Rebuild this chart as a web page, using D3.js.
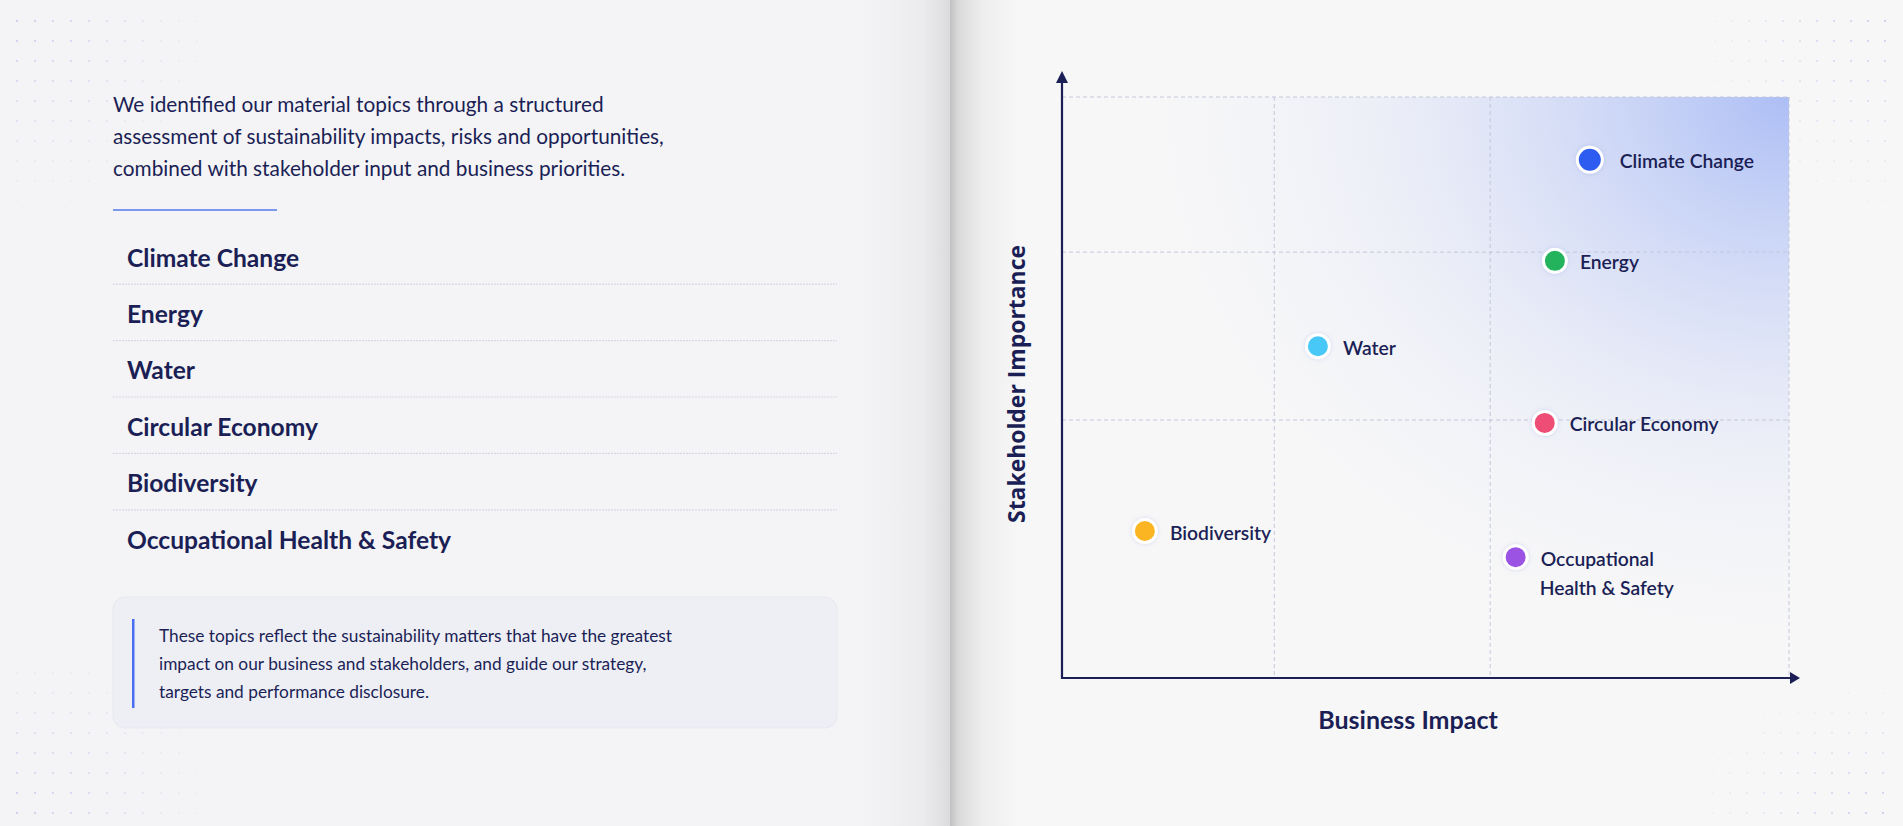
<!DOCTYPE html>
<html>
<head>
<meta charset="utf-8">
<script src="https://cdn.jsdelivr.net/npm/d3@7"></script>
<style>
  html, body { margin: 0; padding: 0; background: #f4f4f6; overflow: hidden; }
  svg { display: block; }
</style>
</head>
<body>
<svg id="chart" width="1903" height="826"></svg>
<script>
// ---------------- DATA ----------------
const introLines = [
  "We identified our material topics through a structured",
  "assessment of sustainability impacts, risks and opportunities,",
  "combined with stakeholder input and business priorities."
];
const topicList = ["Climate Change", "Energy", "Water", "Circular Economy", "Biodiversity", "Occupational Health & Safety"];
const noteLines = [
  "These topics reflect the sustainability matters that have the greatest",
  "impact on our business and stakeholders, and guide our strategy,",
  "targets and performance disclosure."
];
const topics = ["Climate Change", "Energy", "Water", "Circular Economy", "Biodiversity", "Occupational Health & Safety"];
const pointLabels = [["Climate Change"], ["Energy"], ["Water"], ["Circular Economy"], ["Biodiversity"], ["Occupational", "Health & Safety"]];
const businessImpact = [7.26, 6.78, 3.52, 6.64, 1.14, 6.24];
const stakeholderImportance = [8.92, 7.18, 5.71, 4.39, 2.53, 2.08];
const pointColors = ["#2f5cf0", "#22b35c", "#47c8f6", "#ee4d76", "#fbb424", "#9a52e3"];
const xGridValues = [2.92, 5.89, 10];
const yGridValues = [4.44, 7.33, 10];
const xTitle = "Business Impact";
const yTitle = "Stakeholder Importance";

// ---------------- SETUP ----------------
const W = 1903, H = 826;
const navy = "#1b1f55";
const svg = d3.select("#chart");
const defs = svg.append("defs");

// background
svg.append("rect").attr("width", W).attr("height", H).attr("fill", "#f4f4f6");
svg.append("rect").attr("x", 950).attr("width", W - 950).attr("height", H).attr("fill", "#f7f7f8");

// gutter shadows
const gL = defs.append("linearGradient").attr("id", "gutterL").attr("x1", "0").attr("x2", "1");
gL.append("stop").attr("offset", "0").attr("stop-color", "#000").attr("stop-opacity", 0);
gL.append("stop").attr("offset", "0.7").attr("stop-color", "#000").attr("stop-opacity", 0.035);
gL.append("stop").attr("offset", "1").attr("stop-color", "#000").attr("stop-opacity", 0.10);
svg.append("rect").attr("x", 860).attr("width", 90).attr("height", H).attr("fill", "url(#gutterL)");
const gR = defs.append("linearGradient").attr("id", "gutterR").attr("x1", "0").attr("x2", "1");
gR.append("stop").attr("offset", "0").attr("stop-color", "#000").attr("stop-opacity", 0.22);
gR.append("stop").attr("offset", "0.12").attr("stop-color", "#000").attr("stop-opacity", 0.12);
gR.append("stop").attr("offset", "0.45").attr("stop-color", "#000").attr("stop-opacity", 0.04);
gR.append("stop").attr("offset", "1").attr("stop-color", "#000").attr("stop-opacity", 0);
svg.append("rect").attr("x", 950).attr("width", 70).attr("height", H).attr("fill", "url(#gutterR)");

// corner dot patterns (decoration)
function cornerDots(x0, y0, dx, dy, nx, ny, maxD) {
  const g = svg.append("g");
  for (let i = 0; i < nx; i++) for (let j = 0; j < ny; j++) {
    const d = Math.hypot(i / nx, j / ny);
    const o = Math.max(0, 1 - d / maxD) * 0.55;
    if (o <= 0.02) continue;
    g.append("circle").attr("cx", x0 + i * dx).attr("cy", y0 + j * dy).attr("r", 1.1)
      .attr("fill", "#9ea6e6").attr("opacity", o);
  }
}
cornerDots(17, 21, 18, 20, 12, 10, 1.0);
cornerDots(17, 813, 18, -20, 12, 9, 1.0);
cornerDots(1885, 21, -17, 20, 12, 10, 1.0);
cornerDots(1883, 813, -17, -20, 12, 7, 1.0);

// ---------------- LEFT PAGE ----------------
const left = svg.append("g").attr("font-family", "Lato, 'Open Sans', sans-serif").attr("fill", navy);
left.selectAll("text.intro").data(introLines).join("text")
  .attr("class", "intro")
  .attr("x", 113).attr("y", (d, i) => 103 + i * 32)
  .attr("dominant-baseline", "central")
  .attr("font-size", 20.8).attr("font-weight", 400)
  .text(d => d);

left.append("line").attr("x1", 113).attr("x2", 277).attr("y1", 210).attr("y2", 210)
  .attr("stroke", "#7c97ef").attr("stroke-width", 2);

const listY = d3.scaleLinear().domain([0, 5]).range([257, 539]);
left.selectAll("text.topic").data(topicList).join("text")
  .attr("class", "topic")
  .attr("x", 127).attr("y", (d, i) => listY(i))
  .attr("dominant-baseline", "central")
  .attr("font-size", 24.6).attr("font-weight", 700)
  .text(d => d);
left.selectAll("line.sep").data(topicList.slice(0, -1)).join("line")
  .attr("class", "sep")
  .attr("x1", 113).attr("x2", 837)
  .attr("y1", (d, i) => (listY(i) + listY(i + 1)) / 2 - 1)
  .attr("y2", (d, i) => (listY(i) + listY(i + 1)) / 2 - 1)
  .attr("stroke", "#d5d7e6").attr("stroke-width", 1.2).attr("stroke-dasharray", "2,1");

left.append("rect").attr("x", 113).attr("y", 597).attr("width", 724).attr("height", 131).attr("rx", 12)
  .attr("fill", "#eeeff5").attr("stroke", "#e7e8f0").attr("stroke-width", 1);
left.append("rect").attr("x", 132).attr("y", 619).attr("width", 2.5).attr("height", 89).attr("fill", "#4a6ef0");
left.selectAll("text.note").data(noteLines).join("text")
  .attr("class", "note")
  .attr("x", 159).attr("y", (d, i) => 635 + i * 28)
  .attr("dominant-baseline", "central")
  .attr("font-size", 17.3).attr("font-weight", 400)
  .text(d => d);

// ---------------- CHART ----------------
const x = d3.scaleLinear().domain([0, 10]).range([1062, 1789]);
const y = d3.scaleLinear().domain([0, 10]).range([678, 97]);

const rg = defs.append("radialGradient").attr("id", "hot").attr("gradientUnits", "userSpaceOnUse")
  .attr("cx", x(10)).attr("cy", y(10)).attr("r", 640)
  .attr("gradientTransform", `translate(${x(10)},${y(10)}) scale(1,0.85) translate(${-x(10)},${-y(10)})`);
rg.append("stop").attr("offset", "0").attr("stop-color", "#a9bbf5").attr("stop-opacity", 0.95);
rg.append("stop").attr("offset", "0.3").attr("stop-color", "#b6c5f5").attr("stop-opacity", 0.6);
rg.append("stop").attr("offset", "0.65").attr("stop-color", "#c9d3f6").attr("stop-opacity", 0.22);
rg.append("stop").attr("offset", "1").attr("stop-color", "#dfe4f8").attr("stop-opacity", 0);
svg.append("rect").attr("x", x(0)).attr("y", y(10)).attr("width", x(10) - x(0)).attr("height", y(0) - y(10))
  .attr("fill", "url(#hot)");

// grid
const grid = svg.append("g").attr("stroke", "#c3c7da").attr("stroke-width", 1).attr("stroke-dasharray", "4,3").attr("fill", "none");
grid.selectAll("line.vx").data(xGridValues).join("line")
  .attr("x1", d => x(d)).attr("x2", d => x(d)).attr("y1", y(10)).attr("y2", y(0));
grid.selectAll("line.hy").data(yGridValues).join("line")
  .attr("x1", x(0)).attr("x2", x(10)).attr("y1", d => y(d)).attr("y2", d => y(d));

// axes
const xAxis = d3.axisBottom(x).tickValues([]).tickSizeOuter(0);
const yAxis = d3.axisLeft(y).tickValues([]).tickSizeOuter(0);
const gx = svg.append("g").attr("transform", `translate(0,${y(0)})`).call(xAxis);
const gy = svg.append("g").attr("transform", `translate(${x(0)},0)`).call(yAxis);
gx.select(".domain").attr("stroke", navy).attr("stroke-width", 2.2).attr("d", `M${x(0) - 1},0H${x(10) + 4}`);
gy.select(".domain").attr("stroke", navy).attr("stroke-width", 2.2).attr("d", `M0,${y(0) + 1}V${y(10) - 14}`);
// arrowheads
svg.append("path").attr("fill", navy)
  .attr("d", `M${x(10) + 1},${y(0) - 6}L${x(10) + 11},${y(0)}L${x(10) + 1},${y(0) + 6}Z`);
svg.append("path").attr("fill", navy)
  .attr("d", `M${x(0) - 6},${y(10) - 14}L${x(0)},${y(10) - 26}L${x(0) + 6},${y(10) - 14}Z`);

// axis titles
svg.append("text").attr("x", 1408).attr("y", 719).attr("text-anchor", "middle").attr("dominant-baseline", "central")
  .attr("font-family", "Lato, sans-serif").attr("font-weight", 700).attr("font-size", 25).attr("fill", navy).text(xTitle);
svg.append("text").attr("transform", `translate(1016,384) rotate(-90)`).attr("text-anchor", "middle").attr("dominant-baseline", "central")
  .attr("font-family", "'Open Sans', sans-serif").attr("font-weight", 700).attr("font-size", 22.9).attr("fill", navy).text(yTitle);

// points
const data = topics.map((t, i) => ({ t, lbl: pointLabels[i], x: businessImpact[i], y: stakeholderImportance[i], c: pointColors[i] }));
const glow = defs.append("filter").attr("id", "glow").attr("x", "-50%").attr("y", "-50%").attr("width", "200%").attr("height", "200%");
glow.append("feDropShadow").attr("dx", 0).attr("dy", 0).attr("stdDeviation", 2).attr("flood-color", "#6a7ad0").attr("flood-opacity", 0.25);

const pts = svg.append("g").selectAll("g").data(data).join("g")
  .attr("transform", d => `translate(${x(d.x)},${y(d.y)})`);
pts.append("circle").attr("r", (d, i) => i === 0 ? 12.5 : 11.5).attr("fill", d => d.c)
  .attr("stroke", "#ffffff").attr("stroke-width", 3).attr("filter", "url(#glow)");
pts.append("text").attr("x", (d, i) => i === 0 ? 30 : 25)
  .attr("font-family", "Lato, sans-serif").attr("font-weight", 600).attr("font-size", 19.3).attr("fill", navy)
  .selectAll("tspan").data(d => d.lbl).join("tspan")
  .attr("x", (d, i, n) => d3.select(n[i].parentNode).attr("x") - (i > 0 ? 1 : 0))
  .attr("y", (d, i) => i * 29 + 1)
  .attr("dominant-baseline", "central")
  .text(d => d);
</script>
</body>
</html>
